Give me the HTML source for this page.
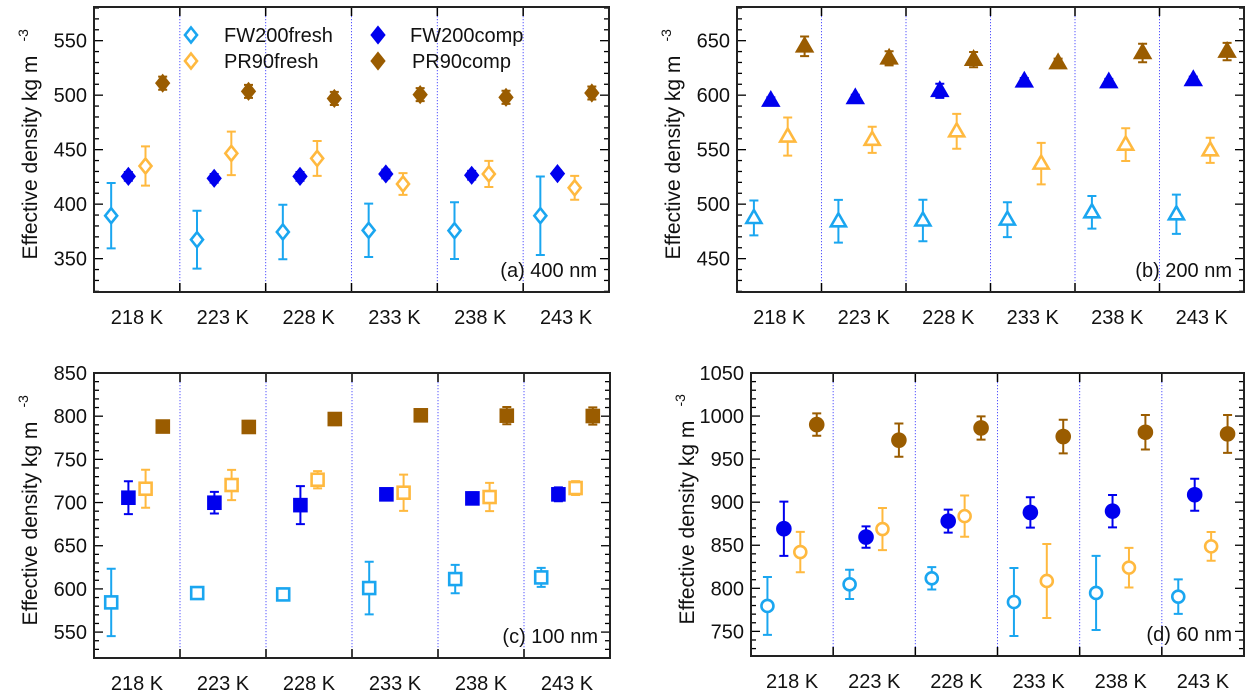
<!DOCTYPE html>
<html><head><meta charset="utf-8"><style>
body{margin:0;background:#fff;}
svg{display:block;font-family:"Liberation Sans",Arial,sans-serif;}
</style></head><body>
<svg id="chart" width="1258" height="692" viewBox="0 0 1258 692" xmlns="http://www.w3.org/2000/svg"></svg>
<script>
const categories = ["218 K","223 K","228 K","233 K","238 K","243 K"];
const seriesNames = ["FW200fresh","FW200comp","PR90fresh","PR90comp"];
// Panel (a) 400 nm
const aFWf=[389.4,367.4,374.5,376,375.7,389.4], aFWfErr=[30,26.5,25,24.5,26,36];
const aFWc=[425.5,423.7,425.5,427.7,426.5,428], aFWcErr=[4,4,4,4,4,3];
const aPRf=[435,446.6,442,418.5,427.7,415], aPRfErr=[18,20,16,10,12,11];
const aPRc=[511,503.5,497,500.5,498,502], aPRcErr=[6,6,6,6,6,6];
const aTicks=[350,400,450,500,550];
// Panel (b) 200 nm
const bFWf=[487.3,484.3,485,485.8,492.5,490.7], bFWfErr=[16,19.6,19,16,15,18];
const bFWc=[595,597.4,604,612.7,612,614], bFWcErr=[3,3,6.5,3,3,3];
const bPRf=[562,559,566.8,537.2,554.6,549.4], bPRfErr=[17.5,12,16,19,15,11.5];
const bPRc=[644.8,633.8,632.6,629.5,638.7,640], bPRcErr=[9,6.5,7,4,8.5,8];
const bTicks=[450,500,550,600,650];
// Panel (c) 100 nm
const cFWf=[584.4,595.2,593.6,601,611.4,613.3], cFWfErr=[39,5,7,30.5,16.4,11];
const cFWc=[705.6,699.8,697,709.5,704.8,709.5], cFWcErr=[19,12.5,22,6,7,8];
const cPRf=[716,720.3,726.4,711.4,706.4,716.8], cPRfErr=[22,17.5,10,21,16.4,8];
const cPRc=[788,787.5,796.7,801,800.6,800.2], cPRcErr=[6,7,7,3,10,10];
const cTicks=[550,600,650,700,750,800,850];
// Panel (d) 60 nm
const dFWf=[779.5,804.6,811.6,784.1,794.6,790.3], dFWfErr=[33.6,17,13,39.5,43,20];
const dFWc=[869.2,859.5,878,888.1,889.6,908.6], dFWcErr=[31.5,12.4,13.4,17.6,18.8,18.6];
const dPRf=[842.1,868.8,883.8,808.5,824,848.7], dPRfErr=[23.4,24.4,24,43,23,16.7];
const dPRc=[990.1,972,986.2,976.2,981.2,979.3], dPRcErr=[13,19.3,13.5,19.5,20,22];
const dTicks=[750,800,850,900,950,1000,1050];

const colors=["#1aa6f0","#0000ee","#ffb93f","#9a5c00"];
const filled=[false,true,false,true];
const NS="http://www.w3.org/2000/svg";
const svg=document.getElementById("chart");
function el(tag,attrs,parent){const e=document.createElementNS(NS,tag);for(const k in attrs)e.setAttribute(k,attrs[k]);(parent||svg).appendChild(e);return e;}

function marker(g,shape,cx,cy,color,fill){
  let m;const sw=2.6;
  if(shape==="diamond"){m=el("polygon",{points:`${cx},${cy-7.5} ${cx+6},${cy} ${cx},${cy+7.5} ${cx-6},${cy}`,fill:fill?color:"#fff",stroke:color,"stroke-width":sw},g);}
  else if(shape==="triangle"){m=el("polygon",{points:`${cx},${cy-8} ${cx+7.5},${cy+5} ${cx-7.5},${cy+5}`,fill:fill?color:"#fff",stroke:color,"stroke-width":sw,"stroke-linejoin":"miter"},g);}
  else if(shape==="square"){m=el("rect",{x:cx-6,y:cy-6,width:12,height:12,fill:fill?color:"#fff",stroke:color,"stroke-width":sw},g);}
  else {m=el("circle",{cx:cx,cy:cy,r:fill?6.5:6,fill:fill?color:"#fff",stroke:color,"stroke-width":sw},g);}
  return m;
}

function panel(id,box,dom,ticks,series,errs,shape,label,legend){
  const [x0,y0,x1,y1]=box;
  const g=el("g",{});
  
  
  const ys=v=>y1-(v-dom[0])/(dom[1]-dom[0])*(y1-y0);
  const colW=(x1-x0)/categories.length;
  const xs=(i,s)=>x0+colW*i+colW*(0.2+0.2*s);
  for(let i=1;i<categories.length;i++){
    const x=x0+colW*i;
    const dl=el("line",{x1:x,x2:x,y1:y0,y2:y1,stroke:"#5555ff","stroke-width":1,"stroke-dasharray":"1.2,1.8"},g);
    
    
    el("line",{x1:x,x2:x,y1:y0,y2:y0+9,stroke:"#000","stroke-width":1.5},g);
    el("line",{x1:x,x2:x,y1:y1-9,y2:y1,stroke:"#000","stroke-width":1.5},g);
  }
  const step=10;
  for(let v=Math.ceil(dom[0]/step)*step;v<=dom[1];v+=step){
    const y=ys(v);const major=ticks.includes(v);const L=major?9:5;
    el("line",{x1:x0,x2:x0+L,y1:y,y2:y,stroke:"#000","stroke-width":1.3},g);
    el("line",{x1:x1,x2:x1-L,y1:y,y2:y,stroke:"#000","stroke-width":1.3},g);
  }
  ticks.forEach(t=>{
    const tl=el("text",{x:x0-7,y:ys(t)+7,"text-anchor":"end","font-size":20,fill:"#111"},g);
    tl.textContent=t;
    
    
  });
  categories.forEach((c,i)=>{
    const tl=el("text",{x:x0+colW*(i+0.5),y:y1+32,"text-anchor":"middle","font-size":20,fill:"#111"},g);
    tl.textContent=c;
    
    
  });
  series.forEach((vals,s)=>{
    const sg=el("g",{},g);
    
    
    vals.forEach((v,i)=>{
      const cx=xs(i,s),cy=ys(v),e=errs[s][i];
      const top=ys(v+e),bot=ys(v-e);
      const eb=el("path",{d:`M${cx},${top}V${bot}M${cx-4.5},${top}H${cx+4.5}M${cx-4.5},${bot}H${cx+4.5}`,stroke:colors[s],"stroke-width":2,fill:"none"},sg);
      
      
      const m=marker(sg,shape,cx,cy,colors[s],filled[s]);
      
      
    });
  });
  const fr=el("rect",{x:x0,y:y0,width:x1-x0,height:y1-y0,fill:"none",stroke:"#222","stroke-width":2},g);
  
  
  const pl=el("text",{x:x1-12,y:y1-15,"text-anchor":"end","font-size":20,fill:"#111"},g);
  pl.textContent=label;
  
  
  const cy=(y0+y1)/2+8, tx=x0-57;
  const yt=el("text",{x:0,y:0,transform:`translate(${tx},${cy}) rotate(-90)`,"text-anchor":"middle","font-size":21,fill:"#111"},g);
  yt.textContent="Effective density kg m";
  
  
  const sup=el("text",{x:0,y:0,transform:`translate(${tx-9},${cy-116}) rotate(-90)`,"text-anchor":"start","font-size":14,fill:"#111"},g);
  sup.textContent="-3";
  
  
  if(legend){
    const lg=el("g",{},g);
    
    
    const pos=[[191,35,224],[378,35,410],[191,61,224],[378,61,412]];
    [0,1,2,3].forEach((s,k)=>{
      const [mx,my,tx2]=pos[k];
      const e=el("g",{},lg);
      
      
      marker(e,"diamond",mx,my,colors[s],filled[s]);
      const t=el("text",{x:tx2,y:my+7,"font-size":20,fill:"#111"},e);
      t.textContent=seriesNames[s];
    });
  }
}

panel("a",[94,7,609,292],[319.4,580.9],aTicks,[aFWf,aFWc,aPRf,aPRc],[aFWfErr,aFWcErr,aPRfErr,aPRcErr],"diamond","(a) 400 nm",true);
panel("b",[737,7,1244,292],[419.4,680.9],bTicks,[bFWf,bFWc,bPRf,bPRc],[bFWfErr,bFWcErr,bPRfErr,bPRcErr],"triangle","(b) 200 nm",false);
panel("c",[94,373,610,658],[520,850],cTicks,[cFWf,cFWc,cPRf,cPRc],[cFWfErr,cFWcErr,cPRfErr,cPRcErr],"square","(c) 100 nm",false);
panel("d",[751,373,1244,656],[721.4,1050],dTicks,[dFWf,dFWc,dPRf,dPRc],[dFWfErr,dFWcErr,dPRfErr,dPRcErr],"circle","(d) 60 nm",false);
</script>
</body></html>
